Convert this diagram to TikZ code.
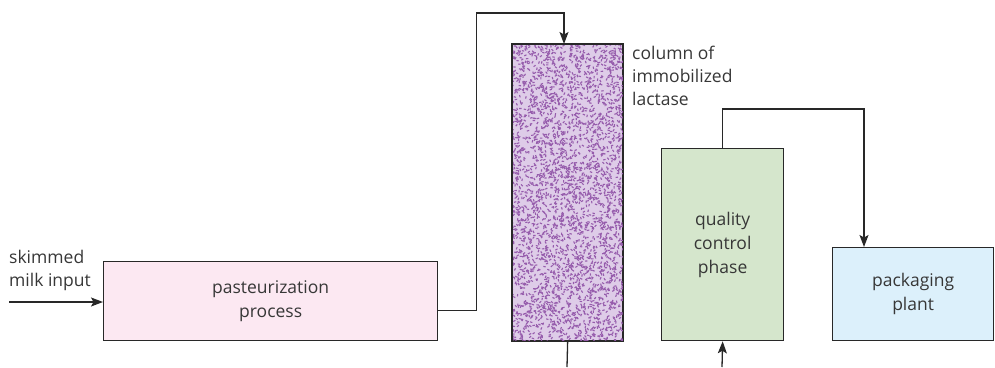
\documentclass[tikz,border=0pt]{standalone}
\usepackage{fontspec}
\setmainfont{Open Sans}
\usetikzlibrary{positioning,arrows.meta,calc}

\definecolor{linegray}{RGB}{40,40,40}
\definecolor{textgray}{RGB}{55,55,55}
\definecolor{pasteurpink}{RGB}{252,232,242}
\definecolor{columnlilac}{RGB}{222,204,232}
\definecolor{columnspeck}{RGB}{150,92,172}
\definecolor{qcgreen}{RGB}{213,230,204}
\definecolor{packblue}{RGB}{220,240,251}

\tikzset{
  stage/.style={draw=linegray, line width=1.3pt, text=textgray, align=center,
    inner sep=0pt, anchor=north west, font=\fontsize{17.5}{24}\selectfont},
  caption/.style={text=textgray, align=left, inner sep=0pt, anchor=north west,
    font=\fontsize{17.5}{23}\selectfont},
  flow/.style={draw=linegray, line width=1.3pt},
  flowarrow/.style={flow, -{Stealth[length=12pt,width=9pt,inset=2.5pt]}}
}

\begin{document}
\begin{tikzpicture}[x=1pt,y=-1pt]
  \useasboundingbox (0,0) rectangle (995,367);

  % process stages
  \node[stage, fill=pasteurpink, minimum width=334pt, minimum height=79pt]
    (pasteur) at (103,261) {pasteurization\\process};
  \node[stage, fill=columnlilac, minimum width=110pt, minimum height=296pt]
    (column) at (512,44) {};
  \node[stage, fill=qcgreen, minimum width=122pt, minimum height=192pt]
    (qc) at (661,148) {quality\\control\\phase};
  \node[stage, fill=packblue, minimum width=161pt, minimum height=93pt]
    (pack) at (832,247) {packaging\\plant};

  % speckled packing of the column
  \begin{scope}
    \clip (column.north west) rectangle (column.south east);
    \pgfmathsetseed{31}
    \foreach \i in {1,...,3400} {
      \draw[columnspeck, line width=1.1pt]
        ({510+114*rnd},{42+300*rnd}) -- ++({360*rnd}:2.4);
    }
  \end{scope}
  \draw[linegray, line width=1.3pt] (column.north west) rectangle (column.south east);

  % free texts
  \node[caption] (milklabel) at (9,250) {skimmed\\milk input};
  \node[caption] (columnlabel) at (632,46) {column of\\immobilized\\lactase};

  % loose ends of the flow
  \coordinate (milkin) at (9,302);
  \coordinate (colout) at (567,367);
  \coordinate (qcin) at (722,367);

  % flow lines
  \draw[flowarrow] (milkin) -- (pasteur.west |- milkin);
  \draw[flowarrow] ($(pasteur.south east)+(0,-31)$) -- ++(38,0) |- (564,13)
    -- ($(column.north west)+(52,0)$);
  \draw[flow] (column.south) -- (colout);
  \draw[flowarrow] (qcin) -- (qc.south);
  \draw[flowarrow] (qc.north) |- (864,109) -- ($(pack.north west)+(32,0)$);
\end{tikzpicture}
\end{document}
